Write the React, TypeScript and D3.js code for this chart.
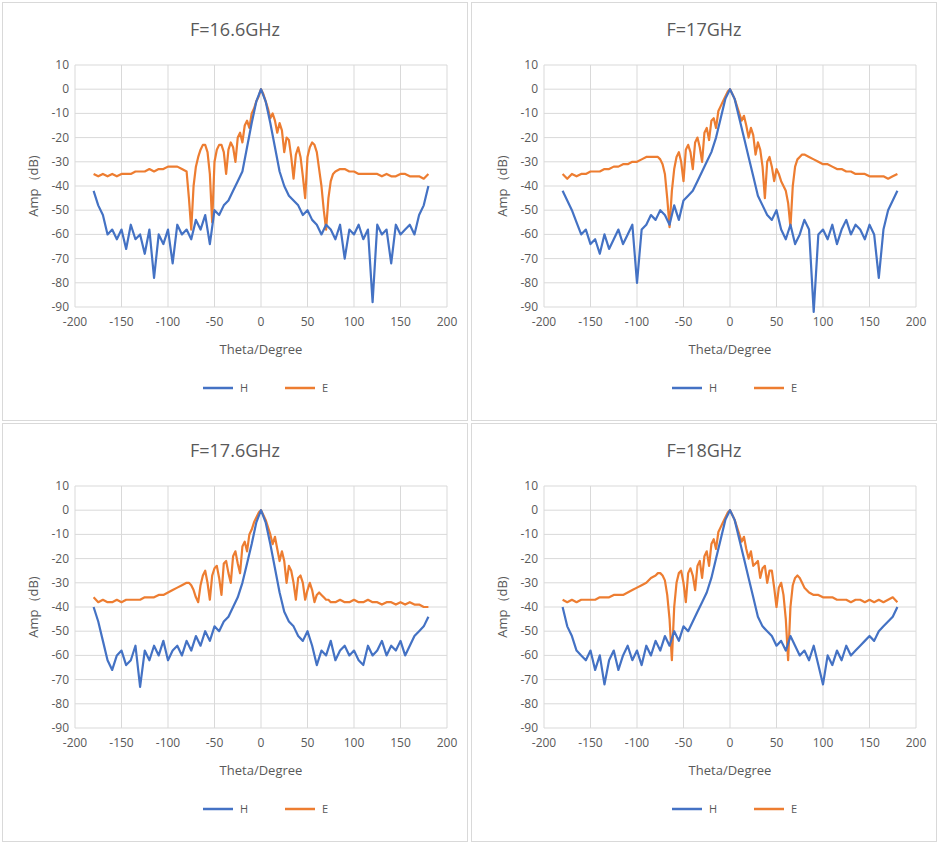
import React from "react";
import * as d3 from "d3";

const thetaH = d3.range(-180, 181, 5);
const thetaE = [...d3.range(-180, -79, 5), ...d3.range(-77.5, 78, 2.5), ...d3.range(80, 181, 5)];
const titles = ["F=16.6GHz", "F=17GHz", "F=17.6GHz", "F=18GHz"];
const xTicks = [-200, -150, -100, -50, 0, 50, 100, 150, 200];
const yTicks = [10, 0, -10, -20, -30, -40, -50, -60, -70, -80, -90];

const H1 = [-42,-48,-52,-60,-58,-62,-58,-66,-56,-62,-60,-68,-58,-78,-60,-64,-58,-72,-56,-60,-58,-62,-54,-58,-52,-64,-50,-52,-48,-46,-42,-38,-34,-24,-14,-5,0,-5,-14,-24,-34,-40,-44,-46,-48,-52,-50,-54,-56,-60,-56,-58,-62,-56,-70,-58,-60,-56,-62,-58,-88,-56,-60,-58,-72,-56,-60,-58,-56,-60,-52,-48,-40];
const H2 = [-42,-46,-50,-55,-60,-58,-64,-62,-68,-60,-66,-62,-58,-64,-60,-56,-80,-58,-56,-52,-54,-50,-52,-56,-48,-54,-46,-44,-42,-38,-34,-30,-26,-20,-12,-4,0,-4,-12,-20,-28,-36,-44,-48,-52,-54,-50,-58,-62,-56,-64,-60,-54,-58,-92,-60,-58,-62,-56,-64,-58,-54,-60,-56,-58,-62,-56,-60,-78,-58,-50,-46,-42];
const H3 = [-40,-46,-54,-62,-66,-60,-58,-64,-62,-56,-73,-58,-62,-56,-60,-54,-62,-58,-56,-60,-54,-58,-52,-56,-50,-54,-48,-50,-46,-44,-40,-36,-30,-22,-14,-5,0,-5,-14,-24,-34,-42,-46,-48,-52,-54,-50,-56,-64,-58,-60,-54,-62,-58,-56,-60,-58,-62,-64,-56,-60,-58,-54,-60,-56,-58,-54,-60,-56,-52,-50,-48,-44];
const H4 = [-40,-48,-52,-58,-60,-62,-58,-66,-60,-72,-62,-58,-66,-60,-56,-62,-58,-64,-56,-60,-54,-58,-52,-56,-50,-54,-48,-50,-46,-42,-38,-34,-28,-20,-12,-4,0,-4,-12,-20,-28,-36,-44,-48,-50,-52,-56,-54,-58,-52,-56,-60,-58,-62,-56,-64,-72,-60,-64,-58,-62,-56,-60,-58,-56,-54,-52,-54,-50,-48,-46,-44,-40];

const E1 = [-35,-36,-35,-36,-35,-36,-35,-35,-35,-34,-34,-34,-33,-34,-33,-33,-32,-32,-32,-33,-34,
  -45,-58,-40,-32,-28,-25,-23,-23,-26,-35,-55,-30,-25,-23,-23,-26,-35,-25,-22,-24,-30,-20,-18,-22,-15,-13,-16,-10,-8,-5,-3,0,
  -2,-5,-8,-12,-10,-13,-18,-14,-17,-26,-20,-21,-28,-37,-27,-24,-28,-36,-45,-28,-24,-22,-23,-26,-33,-40,-50,-58,-45,-38,-35,
  -34,-33,-33,-34,-34,-35,-35,-35,-35,-35,-36,-35,-36,-36,-35,-35,-36,-36,-36,-37,-35];
const E2 = [-35,-37,-35,-36,-35,-35,-34,-34,-34,-33,-33,-32,-32,-31,-31,-30,-30,-29,-28,-28,-28,
  -28,-29,-31,-35,-45,-57,-42,-33,-28,-26,-30,-38,-25,-23,-26,-33,-22,-20,-24,-30,-18,-16,-21,-13,-12,-16,-9,-7,-5,-3,-1,0,
  -2,-4,-7,-10,-13,-11,-15,-20,-16,-19,-27,-22,-25,-32,-45,-30,-28,-32,-38,-33,-35,-38,-40,-42,-47,-57,-40,-32,-29,-28,-27,
  -27,-28,-29,-30,-31,-31,-32,-33,-33,-34,-34,-35,-35,-35,-36,-36,-36,-36,-37,-36,-35];
const E3 = [-36,-38,-37,-38,-38,-37,-38,-37,-37,-37,-37,-36,-36,-36,-35,-35,-34,-33,-32,-31,-30,
  -30,-31,-33,-36,-38,-31,-27,-25,-30,-37,-27,-24,-23,-28,-35,-22,-21,-26,-30,-19,-17,-22,-26,-15,-13,-17,-10,-8,-5,-3,-1,0,
  -2,-4,-7,-10,-14,-11,-16,-21,-17,-21,-30,-23,-25,-30,-37,-28,-27,-30,-37,-33,-30,-33,-38,-35,-34,-35,-36,-37,-37,-38,-38,
  -38,-37,-38,-38,-37,-38,-38,-37,-38,-38,-39,-38,-38,-39,-38,-39,-38,-39,-39,-40,-40];
const E4 = [-37,-38,-37,-38,-37,-37,-37,-37,-36,-36,-36,-35,-35,-35,-34,-33,-32,-31,-30,-28,-27,
  -26,-26,-27,-29,-35,-45,-62,-40,-30,-26,-25,-30,-38,-26,-24,-27,-33,-23,-21,-28,-19,-17,-23,-14,-12,-16,-9,-7,-5,-3,-1,0,
  -2,-4,-7,-10,-13,-11,-16,-20,-17,-23,-22,-21,-28,-24,-23,-30,-25,-25,-32,-40,-32,-30,-35,-45,-62,-40,-31,-28,-27,-28,-30,
  -32,-34,-35,-35,-36,-36,-36,-37,-37,-37,-38,-37,-37,-38,-37,-38,-37,-38,-37,-36,-38];

const Hs = [H1, H2, H3, H4];
const Es = [E1, E2, E3, E4];
const BLUE = "#4472C4", ORANGE = "#ED7D31", GRID = "#D9D9D9", TXT = "#595959";
const FONT = "'Open Sans', 'Noto Sans', sans-serif";

function Panel({ i, ox, oy }: { i: number; ox: number; oy: number }) {
  const L = 73, T = 63, W = 372, Ht = 242;
  const x = d3.scaleLinear().domain([-200, 200]).range([L, L + W]);
  const y = d3.scaleLinear().domain([10, -90]).range([T, T + Ht]);
  const line = d3.line<[number, number]>().x(d => x(d[0])).y(d => y(d[1]));
  const hPts = thetaH.map((t, k) => [t, Hs[i][k]] as [number, number]).filter(d => d[1] !== undefined);
  const ePts = thetaE.map((t, k) => [t, Es[i][k]] as [number, number]).filter(d => d[1] !== undefined);
  return (
    <g transform={`translate(${ox},${oy})`} fontFamily={FONT}>
      <rect x={0.5} y={0.5} width={465} height={418} fill="#fff" stroke={GRID} />
      <text x={233} y={34} textAnchor="middle" fontSize={18} fill={TXT}>{titles[i]}</text>
      {yTicks.map(v => (
        <g key={v}>
          <line x1={L} x2={L + W} y1={y(v)} y2={y(v)} stroke={GRID} />
          <text x={L - 6} y={y(v) + 4} textAnchor="end" fontSize={12} fill={TXT}>{v}</text>
        </g>
      ))}
      {xTicks.map(v => (
        <g key={v}>
          <line x1={x(v)} x2={x(v)} y1={T} y2={T + Ht} stroke={GRID} />
          <text x={x(v)} y={T + Ht + 19} textAnchor="middle" fontSize={12} fill={TXT}>{v}</text>
        </g>
      ))}
      <path d={line(ePts) || ""} fill="none" stroke={ORANGE} strokeWidth={2.2} strokeLinejoin="round" />
      <path d={line(hPts) || ""} fill="none" stroke={BLUE} strokeWidth={2.2} strokeLinejoin="round" />
      <text x={L + W / 2} y={352} textAnchor="middle" fontSize={13} fill={TXT}>Theta/Degree</text>
      <text transform={`translate(36,${T + Ht / 2}) rotate(-90)`} textAnchor="middle" fontSize={13} fill={TXT}>Amp（dB)</text>
      <line x1={201} x2={231} y1={386} y2={386} stroke={BLUE} strokeWidth={2.5} />
      <text x={238} y={390} fontSize={11} fill={TXT}>H</text>
      <line x1={283} x2={313} y1={386} y2={386} stroke={ORANGE} strokeWidth={2.5} />
      <text x={320} y={390} fontSize={11} fill={TXT}>E</text>
    </g>
  );
}

export default function App() {
  return (
    <svg width={938} height={843} style={{ position: "absolute", left: 0, top: 0, background: "#fff" }}>
      <Panel i={0} ox={2} oy={2} />
      <Panel i={1} ox={471} oy={2} />
      <Panel i={2} ox={2} oy={423} />
      <Panel i={3} ox={471} oy={423} />
    </svg>
  );
}
